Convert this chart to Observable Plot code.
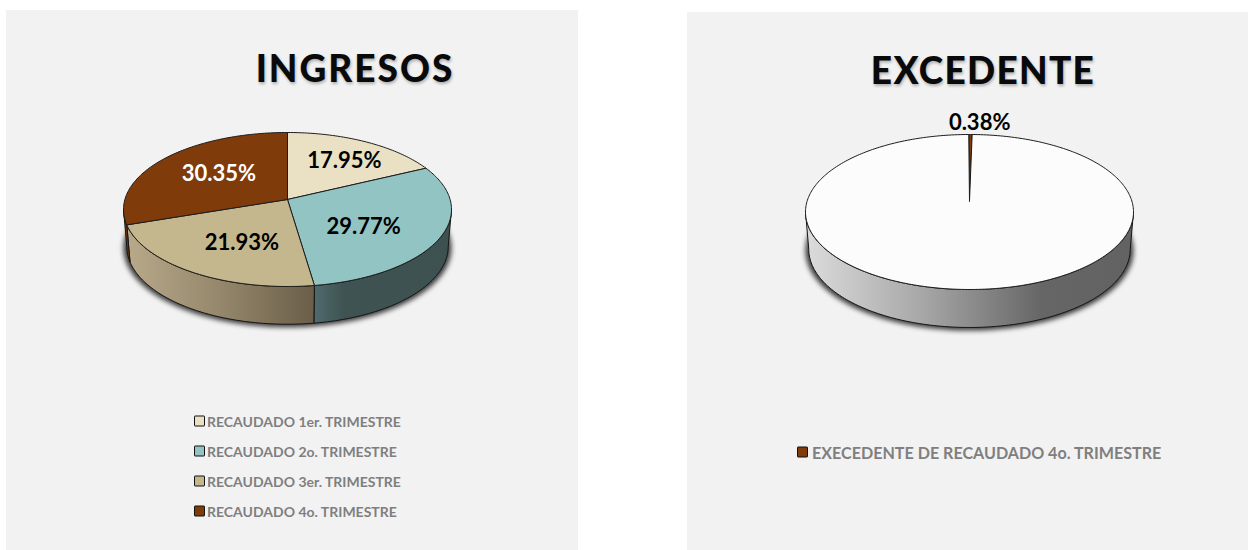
<!DOCTYPE html>
<html lang="es">
<head>
<meta charset="utf-8">
<script src="https://cdn.jsdelivr.net/npm/d3@7"></script>
<script src="https://cdn.jsdelivr.net/npm/@observablehq/plot@0.6"></script>
<style>
  html, body { margin: 0; padding: 0; background: #fff; width: 1248px; height: 550px; overflow: hidden; }
  body { position: relative; font-family: Lato, "Open Sans", sans-serif; }
  .panel { position: absolute; background: #f2f2f2; }
  .panel svg { position: absolute; left: 0; top: 0; background: transparent; }
  .title { position: absolute; transform: translate(-50%, -50%); font-weight: 900; color: #0a0a0a; white-space: nowrap;
           text-shadow: 1px 2px 3px rgba(0,0,0,.28); }
  .legend-item { position: absolute; display: flex; align-items: center; font-weight: 700; color: #7f7f7f; white-space: nowrap; transform: translateY(-50%); }
  .swatch { box-sizing: border-box; display: inline-block; border: 1.5px solid #111; border-radius: 1px; }
</style>
</head>
<body>
<script>
// ---- chart values ----
const ingresosLabels = ["RECAUDADO 1er. TRIMESTRE", "RECAUDADO 2o. TRIMESTRE", "RECAUDADO 3er. TRIMESTRE", "RECAUDADO 4o. TRIMESTRE"];
const ingresosValues = [17.95, 29.77, 21.93, 30.35];
const ingresosColors = ["#eae1c5", "#93c4c4", "#c5b78d", "#803b0b"];
const ingresosLabelColors = ["#000", "#000", "#000", "#fff"];
const ingresosWallStops = [
  null,
  [[0, "#506a6e"], [0.22, "#3f5352"], [1, "#3d5150"]],
  [[0, "#b8a98a"], [0.5, "#95876b"], [1, "#6a5e49"]],
  [[0, "#7a3a0c"], [1, "#6e340a"]]
];
const ingresosLabelReach = [0.72, 0.53, 0.57, 0.56];
const ingresosLabelDx = [1, -5, 9, 0];
const ingresosLabelDy = [3, 8, 2, -2];

const excedenteLabels = ["EXECEDENTE DE RECAUDADO 4o. TRIMESTRE", ""];
const excedenteValues = [0.38, 99.62];
const excedenteColors = ["#803b0b", "#fcfcfc"];
const excedenteLabelColors = ["#000", "#000"];
const excedenteWallStops = [
  null,
  [[0, "#dcdcdc"], [0.35, "#a8a8a8"], [0.72, "#666666"], [1, "#626262"]]
];
const excedenteLabelReach = [1.2, 0];
const excedenteLabelDx = [9, 0];
const excedenteLabelDy = [2, 0];

// ---- pie drawing through Plot scales ----
const rad = Math.PI / 180;
const SKEW = 0.07;            // perspective of the tilted disc
const WALL = {rx: 0.98, ry: 1.01, drop: 0.48};

function rimAngle(theta) {
  const x = Math.sin(theta * rad), y = Math.cos(theta * rad), e = SKEW;
  let t = Math.atan2(x * (1 - e * e), 2 * e + y * (1 + e * e)) / rad;
  return t + 360 * Math.round((theta - t) / 360);
}
const rim = t => ({x: Math.sin(t * rad), y: Math.cos(t * rad)});
const wallRim = t => ({x: WALL.rx * Math.sin(t * rad), y: WALL.ry * Math.cos(t * rad) - WALL.drop});
function span(a, b) {
  const n = Math.max(2, Math.ceil(Math.abs(b - a)));
  return d3.range(n + 1).map(i => a + (b - a) * i / n);
}

function pie({panel, cx, cy, rx, ry, apex, start, values, colors, labelColors, wallStops, reach, labelDx, labelDy, fontSize, id}) {
  const host = document.createElement("div");
  host.className = "panel";
  Object.assign(host.style, {left: panel.x + "px", top: panel.y + "px", width: panel.w + "px", height: panel.h + "px"});
  document.body.appendChild(host);

  const px = cx - panel.x, py = cy - panel.y;
  const total = d3.sum(values);
  let acc = start;
  const slices = values.map((v, i) => {
    const a = acc, b = acc + v / total * 360; acc = b;
    return {i, v, t1: rimAngle(a), t2: rimAngle(b), tm: rimAngle((a + b) / 2), color: colors[i], labelColor: labelColors[i], reach: reach[i]};
  });

  const faces = slices.flatMap(s => {
    const pts = [{x: 0, y: apex}, ...span(s.t1, s.t2).map(rim), {x: 0, y: apex}];
    return pts.map(p => ({...p, slice: s.i, color: s.color}));
  });
  const walls = slices.map(s => {
    const a = Math.max(s.t1, 90), b = Math.min(s.t2, 270);
    if (!wallStops[s.i] || b <= a) return null;
    const ts = span(a, b);
    const pts = [...ts.map(rim), ...ts.slice().reverse().map(wallRim)];
    pts.push(pts[0]);
    return {i: s.i, pts};
  }).filter(Boolean);
  const shadow = span(70, 290).map(t => ({x: 1.0 * Math.sin(t * rad), y: 1.03 * Math.cos(t * rad) - WALL.drop - 0.02}));
  const labels = slices.filter(s => s.reach > 0).map(s => {
    const r = rim(s.tm);
    return {x: r.x * s.reach, y: apex + (r.y - apex) * s.reach, text: s.v.toFixed(2) + "%", color: s.labelColor, i: s.i};
  });

  const defs = () => {
    const d = d3.create("svg:defs");
    walls.forEach(w => {
      const g = d.append("linearGradient").attr("id", `${id}-wall-${w.i}`).attr("x1", 0).attr("x2", 1).attr("y1", 0).attr("y2", 0);
      wallStops[w.i].forEach(([o, c]) => g.append("stop").attr("offset", o).attr("stop-color", c));
    });
    return d.node();
  };

  const svg = Plot.plot({
    width: panel.w, height: panel.h,
    margin: 0,
    style: {background: "transparent"},
    x: {domain: [-px / rx, (panel.w - px) / rx], range: [0, panel.w], axis: null},
    y: {domain: [py / ry, (py - panel.h) / ry], range: [0, panel.h], axis: null},
    marks: [
      defs,
      Plot.line(shadow, {x: "x", y: "y", fill: "#000", stroke: "none", fillOpacity: 0.75, imageFilter: "blur(2.5px)"}),
      ...walls.map(w => Plot.line(w.pts, {x: "x", y: "y", fill: `url(#${id}-wall-${w.i})`, stroke: "#141414", strokeWidth: 1})),
      Plot.line(faces, {x: "x", y: "y", z: "slice", fill: "color", stroke: "#1c1c1c", strokeWidth: 1, strokeLinejoin: "round"}),
      ...labels.map(l => Plot.text([l], {x: "x", y: "y", text: "text", fill: l.color, dx: labelDx[l.i], dy: labelDy[l.i], fontSize, fontWeight: 700, fontFamily: "Lato, 'Open Sans', sans-serif"}))
    ]
  });
  host.appendChild(svg);
}

function title(text, x, y, size, spacing) {
  const d = document.createElement("div");
  d.className = "title";
  d.textContent = text;
  Object.assign(d.style, {left: x + "px", top: y + "px", fontSize: size + "px", letterSpacing: spacing + "px"});
  document.body.appendChild(d);
}
function legendItem(text, color, x, y, box, gap, size) {
  const d = document.createElement("div");
  d.className = "legend-item";
  Object.assign(d.style, {left: x + "px", top: y + "px", fontSize: size + "px", gap: gap + "px"});
  const s = document.createElement("span");
  s.className = "swatch";
  Object.assign(s.style, {width: box + "px", height: box + "px", background: color});
  const t = document.createElement("span");
  t.textContent = text;
  d.append(s, t);
  document.body.appendChild(d);
}

pie({panel: {x: 6, y: 10, w: 572, h: 539.5}, cx: 287, cy: 209, rx: 164, ry: 77, apex: 0.13, start: 0,
     values: ingresosValues, colors: ingresosColors, labelColors: ingresosLabelColors, wallStops: ingresosWallStops,
     reach: ingresosLabelReach, labelDx: ingresosLabelDx, labelDy: ingresosLabelDy, fontSize: 22, id: "ing"});
pie({panel: {x: 687, y: 12, w: 561, h: 537.5}, cx: 969, cy: 211.5, rx: 164, ry: 77.5, apex: 0.14, start: -0.3,
     values: excedenteValues, colors: excedenteColors, labelColors: excedenteLabelColors, wallStops: excedenteWallStops,
     reach: excedenteLabelReach, labelDx: excedenteLabelDx, labelDy: excedenteLabelDy, fontSize: 22, id: "exc"});

title("INGRESOS", 355, 67, 37, 2);
title("EXCEDENTE", 983, 69, 37, 1.3);

ingresosLabels.forEach((t, i) => legendItem(t, ingresosColors[i], 194, 421 + 30 * i, 11, 2, 14));
legendItem(excedenteLabels[0], excedenteColors[0], 797, 452, 11, 4, 16.1);
</script>
</body>
</html>
